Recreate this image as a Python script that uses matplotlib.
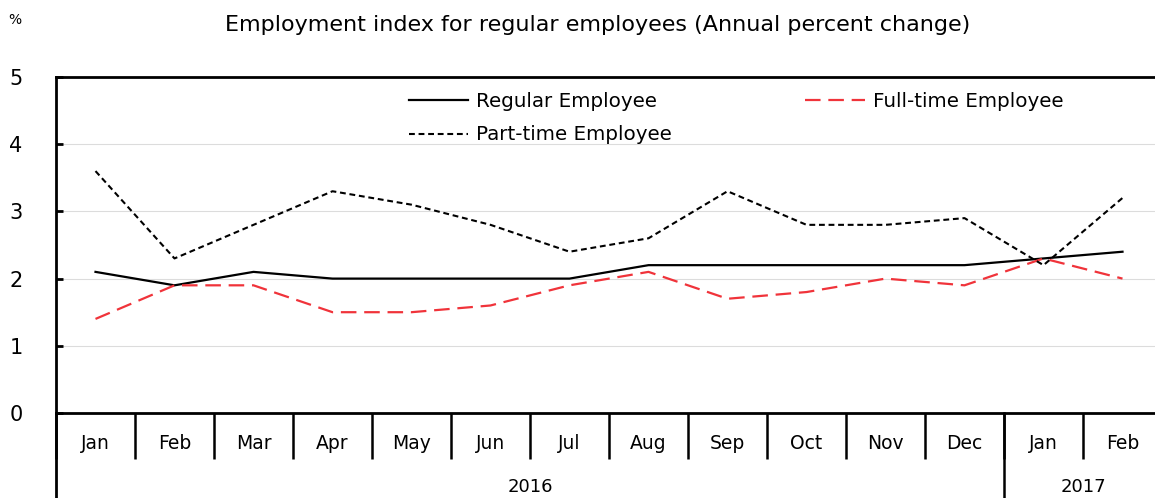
import numpy as np
from matplotlib import pyplot as plt
from matplotlib.patches import Rectangle
import matplotlib.transforms as mtransforms

months = ["Jan", "Feb", "Mar", "Apr", "May", "Jun", "Jul",
          "Aug", "Sep", "Oct", "Nov", "Dec", "Jan", "Feb"]
years = ["2016", "2017"]
year_spans = [(0, 11), (12, 13)]

regular = [2.1, 1.9, 2.1, 2.0, 2.0, 2.0, 2.0, 2.2, 2.2, 2.2, 2.2, 2.2, 2.3, 2.4]
full_time = [1.4, 1.9, 1.9, 1.5, 1.5, 1.6, 1.9, 2.1, 1.7, 1.8, 2.0, 1.9, 2.3, 2.0]
part_time = [3.6, 2.3, 2.8, 3.3, 3.1, 2.8, 2.4, 2.6, 3.3, 2.8, 2.8, 2.9, 2.2, 3.2]

W, H = 1155, 498
fig = plt.figure(figsize=(W / 100, H / 100), dpi=100)
ax = fig.add_axes([56 / W, (H - 413) / H, 1106 / W, 336 / H])

x = np.arange(len(months))
l1, = ax.plot(x, regular, color="black", lw=1.6, label="Regular Employee", zorder=3)
l2, = ax.plot(x, full_time, color="#f0333a", lw=1.6, dashes=(7, 3.5),
              label="Full-time Employee", zorder=3)
l3, = ax.plot(x, part_time, color="black", lw=1.5, dashes=(2.8, 1.8),
              label="Part-time Employee", zorder=3)

ax.set_xlim(-0.5, len(months) - 0.5)
ax.set_ylim(0, 5)
ax.set_yticks([0, 1, 2, 3, 4, 5])
ax.yaxis.grid(True, color="#dcdcdc", lw=0.8)
ax.set_axisbelow(True)

for s in ["left", "top", "bottom"]:
    ax.spines[s].set_linewidth(2)
ax.spines["right"].set_visible(False)

ax.tick_params(axis="y", direction="in", length=5, width=2, pad=24, labelsize=15)
ax.set_xticks(x)
ax.set_xticklabels(months)
ax.tick_params(axis="x", which="major", length=0, pad=15, labelsize=13.5)
ax.set_xticks(np.arange(-0.5, len(months), 1), minor=True)
ax.tick_params(axis="x", which="minor", direction="out", length=33, width=1.8)

# year row
trans = mtransforms.blended_transform_factory(ax.transData, ax.transAxes)
for yr, (a, b) in zip(years, year_spans):
    ax.text((a + b) / 2, -0.22, yr, transform=trans, ha="center", va="center",
            fontsize=13)
ax.plot([11.5, 11.5], [0, -0.26], transform=trans, color="black", lw=1.8,
        clip_on=False)
ax.plot([-0.5, -0.5], [0, -0.26], transform=trans, color="black", lw=2,
        clip_on=False)

# white area behind the legend hides the gridline
ax.add_patch(Rectangle((289 / 1106, 0.805), (1145 - 345) / 1106, 0.185,
                       transform=ax.transAxes, facecolor="white",
                       edgecolor="none", zorder=1))

ax.legend(handles=[l1, l3, l2], ncol=2, loc="upper left",
          bbox_to_anchor=(340 / 1106, 0.995), fontsize=14.3,
          handlelength=3.0, handletextpad=0.4, columnspacing=6.7,
          labelspacing=0.75, frameon=False, borderpad=0.15)

fig.text(598 / W, 1 - 25 / H, "Employment index for regular employees (Annual percent change)",
         ha="center", va="center", fontsize=16)
fig.text(15 / W, 1 - 20 / H, "%", ha="center", va="center", fontsize=10)

fig.savefig("out.png", dpi=100)
